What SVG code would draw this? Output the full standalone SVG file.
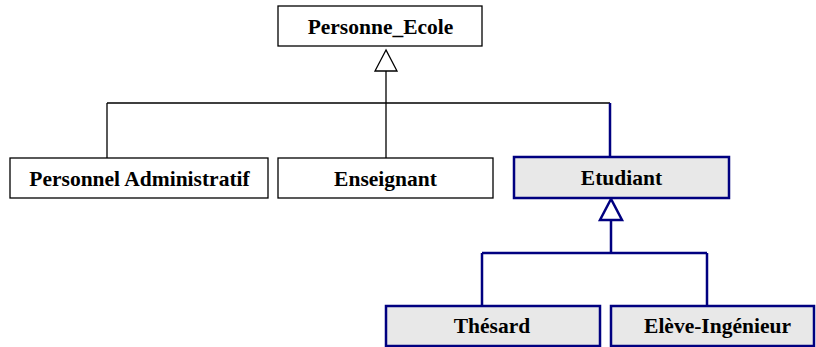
<svg xmlns="http://www.w3.org/2000/svg" width="816" height="347" viewBox="0 0 816 347">
<style>
.box{fill:#ffffff;stroke:#000000;stroke-width:1.3}
.bbox{fill:#e8e8e8;stroke:#000080;stroke-width:2.5}
.lbl{font-family:"Liberation Serif","Times New Roman",serif;font-weight:bold;font-size:21.5px;fill:#000000;text-anchor:middle}
.k{fill:none;stroke:#000000;stroke-width:1.3}
.b{fill:none;stroke:#000080;stroke-width:2.5}
</style>
<rect width="816" height="347" fill="#ffffff"/>
<g id="connectors">
<path class="k" d="M386 71V103M107 103H610M107 103V158M386 103V158"/>
<polygon points="386,50 375,71 397,71" fill="#ffffff" stroke="#000000" stroke-width="1.3"/>
<path class="b" d="M610 103V157M611 220V253M482 253H707M482 253V306M707 253V306"/>
<polygon points="611,199 600,220 622,220" fill="#ffffff" stroke="#000080" stroke-width="2.5"/>
</g>
<g id="personne_ecole"><rect class="box" x="278" y="6" width="204" height="40"/><text class="lbl" x="380.5" y="34">Personne_Ecole</text></g>
<g id="personnel_administratif"><rect class="box" x="10" y="158" width="258" height="40"/><text class="lbl" x="139.5" y="186">Personnel Administratif</text></g>
<g id="enseignant"><rect class="box" x="278" y="158" width="215" height="40"/><text class="lbl" x="385.5" y="186">Enseignant</text></g>
<g id="etudiant"><rect class="bbox" x="514" y="157" width="215" height="41"/><text class="lbl" x="621.5" y="185">Etudiant</text></g>
<g id="thesard"><rect class="bbox" x="386" y="306" width="214" height="40"/><text class="lbl" x="492" y="333">Thésard</text></g>
<g id="eleve_ingenieur"><rect class="bbox" x="611" y="306" width="203" height="40"/><text class="lbl" x="717.5" y="333">Elève-Ingénieur</text></g>
</svg>
